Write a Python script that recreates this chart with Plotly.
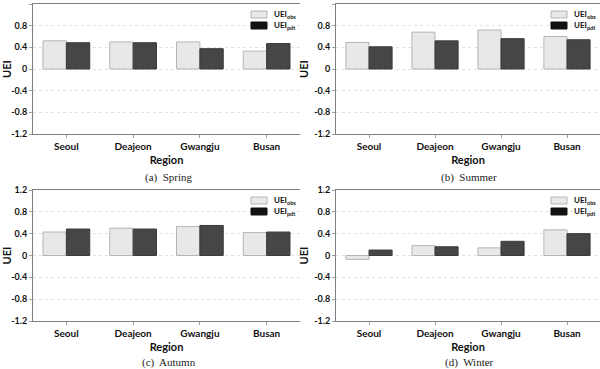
import plotly.graph_objects as go

regions = ["Seoul", "Deajeon", "Gwangju", "Busan"]
seasons = ["(a)  Spring", "(b)  Summer", "(c)  Autumn", "(d)  Winter"]

spring_obs = [0.52, 0.50, 0.50, 0.33]
spring_pdt = [0.485, 0.485, 0.375, 0.47]
summer_obs = [0.49, 0.68, 0.72, 0.60]
summer_pdt = [0.41, 0.52, 0.56, 0.54]
autumn_obs = [0.43, 0.50, 0.53, 0.42]
autumn_pdt = [0.485, 0.485, 0.55, 0.43]
winter_obs = [-0.07, 0.18, 0.14, 0.47]
winter_pdt = [0.10, 0.16, 0.26, 0.40]

y_ticks = [1.2, 0.8, 0.4, 0, -0.4, -0.8, -1.2]
y_tick_labels = ["1.2", "0.8", "0.4", "0", "-0.4", "-0.8", "-1.2"]
legend_labels = ["<b>UEI</b><sub><b>obs</b></sub>", "<b>UEI</b><sub><b>pdt</b></sub>"]

obs_series = [spring_obs, summer_obs, autumn_obs, winter_obs]
pdt_series = [spring_pdt, summer_pdt, autumn_pdt, winter_pdt]

SANS = "Lato"
SERIF = "Liberation Serif"
W, H = 600, 369

# panel geometry in pixels (left, right, top, bottom)
panels_px = [(33, 300, 4, 134), (336, 600, 4, 134), (33, 300, 190, 321), (336, 600, 190, 321)]
caption_px_y = [177, 177, 362, 362]

OBS_FILL, OBS_LINE = "#e8e8e8", "#b5b5b5"
PDT_FILL, PDT_LINE = "#464646", "#3a3a3a"

fig = go.Figure()
layout = dict(
    width=W, height=H,
    margin=dict(l=0, r=0, t=0, b=0, autoexpand=False),
    paper_bgcolor="white", plot_bgcolor="white",
    barmode="group", bargap=0.3, bargroupgap=0.0,
    showlegend=False,
    annotations=[], shapes=[],
)

def px_x(v):
    return v / W

def px_y(v):
    return 1 - v / H

for i in range(4):
    sfx = "" if i == 0 else str(i + 1)
    fig.add_trace(go.Bar(
        x=regions, y=obs_series[i], name="UEI obs",
        marker=dict(color=OBS_FILL, line=dict(color=OBS_LINE, width=1)),
        xaxis="x" + sfx, yaxis="y" + sfx,
    ))
    fig.add_trace(go.Bar(
        x=regions, y=pdt_series[i], name="UEI pdt",
        marker=dict(color=PDT_FILL, line=dict(color=PDT_LINE, width=1)),
        xaxis="x" + sfx, yaxis="y" + sfx,
    ))
    l, r, t, b = panels_px[i]
    xd = [px_x(l), min(px_x(r), 1.0)]
    yd = [px_y(b), px_y(t)]
    layout["xaxis" + sfx] = dict(
        domain=xd, anchor="y" + sfx, automargin=False,
        showline=True, linecolor="#808080", linewidth=1, mirror=True,
        ticks="outside", ticklen=3, tickcolor="#a0a0a0",
        tickfont=dict(family=SANS, size=10, color="#111", weight="bold"),
        title=dict(text="Region", font=dict(family=SANS, size=11, color="#111", weight="bold"), standoff=5),
        showgrid=False, fixedrange=True,
    )
    layout["yaxis" + sfx] = dict(
        domain=yd, anchor="x" + sfx, automargin=False,
        range=[-1.2, 1.2], tickvals=y_ticks, ticktext=y_tick_labels,
        showline=True, linecolor="#808080", linewidth=1, mirror=False,
        ticks="outside", ticklen=3, tickcolor="#a0a0a0",
        tickfont=dict(family=SANS, size=9, color="#111", weight="bold"),
        title=dict(text="UEI", font=dict(family=SANS, size=11, color="#111", weight="bold"), standoff=3),
        showgrid=True, gridcolor="#e2e2e2", griddash="dot", gridwidth=1,
        zeroline=False, fixedrange=True,
    )
    # legend (key) in upper right of each panel
    sw_l, sw_r = r - 49, r - 33
    rows = [(7, 14, OBS_FILL, OBS_LINE), (18, 25, "#111111", "#111111")]
    for k, (y0, y1, fc, lc) in enumerate(rows):
        layout["shapes"].append(dict(
            type="rect", xref="paper", yref="paper",
            x0=px_x(sw_l), x1=px_x(sw_r), y0=px_y(t + y1), y1=px_y(t + y0),
            fillcolor=fc, line=dict(color=lc, width=1),
        ))
        layout["annotations"].append(dict(
            text=legend_labels[k], xref="paper", yref="paper",
            x=px_x(sw_r + 5), y=px_y(t + (y0 + y1) / 2),
            xanchor="left", yanchor="middle", showarrow=False,
            font=dict(family=SANS, size=8, color="#111"),
        ))
    layout["annotations"].append(dict(
        text=seasons[i], x=px_x((l + min(r, 598)) / 2 + 2), y=px_y(caption_px_y[i]),
        xref="paper", yref="paper", showarrow=False,
        xanchor="center", yanchor="middle",
        font=dict(family=SERIF, size=11, color="#222"),
    ))

fig.update_layout(**layout)
fig.write_html(
    "out.html",
    config={"displayModeBar": False, "staticPlot": True},
    post_script="document.body.style.margin='0';document.body.style.overflow='hidden';",
)
